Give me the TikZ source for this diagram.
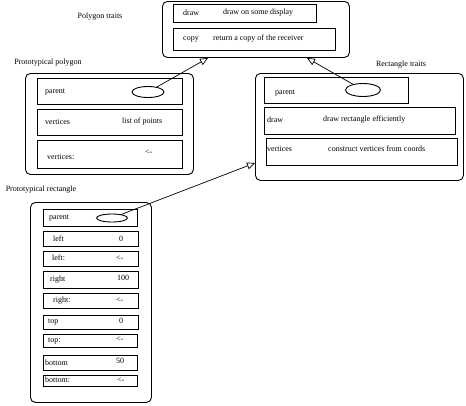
\documentclass[tikz,border=0pt]{standalone}
\usepackage{fontspec}
\setmainfont{Liberation Serif}
\usetikzlibrary{shapes.geometric,arrows.meta}
\begin{document}
\begin{tikzpicture}[x=1pt,y=-1pt,
  outer/.style={draw, rounded corners=5pt, inner sep=0pt, anchor=north west, line width=0.9pt},
  slot/.style={draw, inner sep=0pt, anchor=north west, line width=0.9pt},
  lbl/.style={font=\fontsize{8}{9}\selectfont, inner sep=0pt, anchor=west},
  title/.style={font=\fontsize{8}{9}\selectfont, inner sep=0pt},
  ptr/.style={draw, ellipse, inner sep=0pt, line width=0.9pt},
  link/.style={draw, line width=0.7pt, -{Triangle[open,length=8pt,width=7pt]}}]
\useasboundingbox (0,0) rectangle (466,405);

% Polygon traits
\node[title] (ptt) at (100,17) {Polygon traits};
\node[outer, minimum width=187pt, minimum height=56pt] (ptraits) at (162,1) {};
\node[slot, minimum width=143pt, minimum height=18pt] (ptdraw) at (173,4) {};
\node[slot, minimum width=162pt, minimum height=22pt] (ptcopy) at (173,28) {};
\node[lbl] (ptdrawk) at (183,13) {draw};
\node[lbl] (ptdrawv) at (223,13) {draw on some display};
\node[lbl] (ptcopyk) at (183,39) {copy};
\node[lbl] (ptcopyv) at (213,39) {return a copy of the receiver};

% Prototypical polygon
\node[title] (ppt) at (48,63) {Prototypical polygon};
\node[outer, minimum width=168pt, minimum height=101pt] (ppoly) at (25,73) {};
\node[slot, minimum width=145pt, minimum height=26pt] (ppparent) at (37,78) {};
\node[slot, minimum width=145pt, minimum height=26pt] (ppvert) at (37,109) {};
\node[slot, minimum width=145pt, minimum height=28pt] (ppvertc) at (37,140) {};
\node[lbl] (ppparentk) at (45,92) {parent};
\node[ptr, minimum width=32pt, minimum height=11pt] (ell1) at (148,92) {};
\node[lbl] (ppvertk) at (45,122) {vertices};
\node[lbl] (ppvertv) at (122,122) {list of points};
\node[lbl] (ppvertck) at (47,157) {vertices:};
\node[lbl] (ppvertcv) at (145,152) {<-};

% Rectangle traits
\node[title] (rtt) at (401,65) {Rectangle traits};
\node[outer, minimum width=208pt, minimum height=107pt] (rtraits) at (255,73) {};
\node[slot, minimum width=144pt, minimum height=26pt] (rtparent) at (264,77) {};
\node[slot, minimum width=191pt, minimum height=27pt] (rtdraw) at (264,107) {};
\node[slot, minimum width=191pt, minimum height=27pt] (rtvert) at (266,138) {};
\node[lbl] (rtparentk) at (275,93) {parent};
\node[ptr, minimum width=35pt, minimum height=13pt] (ell2) at (363,90) {};
\node[lbl] (rtdrawk) at (267,120) {draw};
\node[lbl] (rtdrawv) at (323,120) {draw rectangle efficiently};
\node[lbl] (rtvertk) at (267,149) {vertices};
\node[lbl] (rtvertv) at (328,149) {construct vertices from coords};

% Prototypical rectangle
\node[title] (prt) at (41,190) {Prototypical rectangle};
\node[outer, minimum width=121pt, minimum height=200pt] (prect) at (30,202) {};
\node[slot, minimum width=94pt, minimum height=17pt] (prparent) at (43,209) {};
\node[lbl] (prparentk) at (49,218) {parent};
\node[ptr, minimum width=31pt, minimum height=8pt] (ell3) at (112,218) {};

\node[slot, minimum width=95pt, minimum height=15pt] (prl) at (43,231) {};
\node[lbl] (prlk) at (53,239) {left};
\node[lbl] (prlv) at (119,239) {0};
\node[slot, minimum width=95pt, minimum height=15pt] (prlc) at (43,251) {};
\node[lbl] (prlck) at (52,258) {left:};
\node[lbl] (prlcv) at (116,258) {<-};
\node[slot, minimum width=95pt, minimum height=17pt] (prr) at (43,271) {};
\node[lbl] (prrk) at (50,280) {right};
\node[lbl] (prrv) at (117,278) {100};
\node[slot, minimum width=95pt, minimum height=15pt] (prrc) at (43,293) {};
\node[lbl] (prrck) at (53,301) {right:};
\node[lbl] (prrcv) at (116,300) {<-};
\node[slot, minimum width=95pt, minimum height=14pt] (prt0) at (43,315) {};
\node[lbl] (prtk) at (48,322) {top};
\node[lbl] (prtv) at (119,321) {0};
\node[slot, minimum width=94pt, minimum height=13pt] (prtc) at (43,334) {};
\node[lbl] (prtck) at (48,341) {top:};
\node[lbl] (prtcv) at (116,339) {<-};
\node[slot, minimum width=94pt, minimum height=15pt] (prb) at (43,355) {};
\node[lbl] (prbk) at (45,363) {bottom};
\node[lbl] (prbv) at (116,361) {50};
\node[slot, minimum width=94pt, minimum height=11pt] (prbc) at (43,375) {};
\node[lbl] (prbck) at (45,380) {bottom:};
\node[lbl] (prbcv) at (117,380) {<-};

% connectors
\coordinate (tipA) at (208,58);
\coordinate (tipB) at (307,58);
\coordinate (tipC) at (255,163);
\draw[link] (ell1) -- (tipA);
\draw[link] (ell2) -- (tipB);
\draw[link] (ell3) -- (tipC);
\end{tikzpicture}
\end{document}
